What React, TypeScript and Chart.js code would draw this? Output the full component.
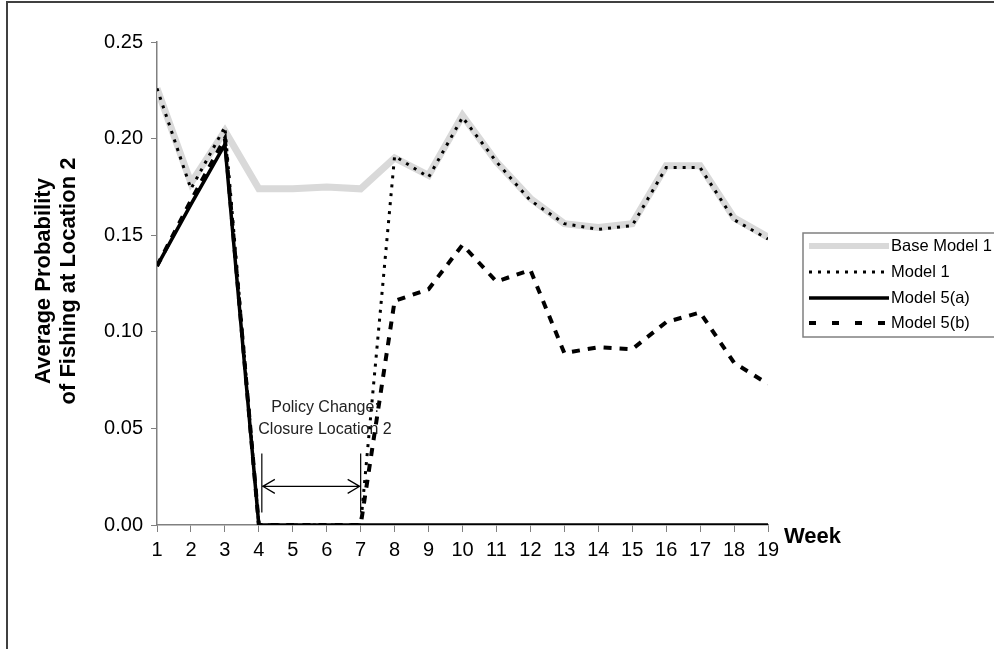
import React, { useEffect, useRef } from 'react';
import { Chart, registerables } from 'chart.js';

Chart.register(...registerables);

const weeks = [1, 2, 3, 4, 5, 6, 7, 8, 9, 10, 11, 12, 13, 14, 15, 16, 17, 18, 19];
const baseModel1 = [0.226, 0.177, 0.204, 0.174, 0.174, 0.175, 0.174, 0.190, 0.181, 0.212, 0.188, 0.169, 0.156, 0.154, 0.156, 0.186, 0.186, 0.159, 0.149];
const model1 = [0.226, 0.174, 0.206, 0, 0, 0, 0, 0.191, 0.180, 0.211, 0.188, 0.168, 0.156, 0.153, 0.155, 0.185, 0.185, 0.158, 0.148];
const model5a = [0.134, 0.166, 0.197, 0, 0, 0, 0, 0, 0, 0, 0, 0, 0, 0, 0, 0, 0, 0, 0];
const model5b = [0.134, 0.168, 0.2, 0, 0, 0, 0, 0.116, 0.122, 0.145, 0.126, 0.132, 0.089, 0.092, 0.091, 0.105, 0.11, 0.084, 0.073];
const yTicks = [0, 0.05, 0.1, 0.15, 0.2, 0.25];
const seriesNames = ['Base Model 1', 'Model 1', 'Model 5(a)', 'Model 5(b)'];

const toXY = (arr: number[]) => arr.map((v, i) => ({ x: weeks[i], y: v }));

const FONT = '"Liberation Sans", Arial, sans-serif';

const styles = [
  { color: '#d9d9d9', width: 7, dash: [] as number[] },
  { color: '#000000', width: 3, dash: [3, 6] },
  { color: '#000000', width: 3.5, dash: [] as number[] },
  { color: '#000000', width: 4, dash: [8, 8] },
];

const decorPlugin = {
  id: 'decor',
  afterDraw(chart: any) {
    const ctx = chart.ctx as CanvasRenderingContext2D;
    const xs = chart.scales.x;
    const ys = chart.scales.y;
    ctx.save();

    // outer frame
    ctx.strokeStyle = '#404040';
    ctx.lineWidth = 2;
    ctx.strokeRect(7, 2, 1000, 700);

    // y-axis title
    ctx.save();
    ctx.translate(56, 281);
    ctx.rotate(-Math.PI / 2);
    ctx.fillStyle = '#000';
    ctx.font = `bold 22px ${FONT}`;
    ctx.textAlign = 'center';
    ctx.textBaseline = 'middle';
    ctx.fillText('Average Probability', 0, -12.5);
    ctx.fillText('of Fishing at Location 2', 0, 12.5);
    ctx.restore();

    // x-axis title
    ctx.fillStyle = '#000';
    ctx.font = `bold 22px ${FONT}`;
    ctx.textAlign = 'left';
    ctx.textBaseline = 'middle';
    ctx.fillText('Week', 784, 537);

    // annotation
    const x4 = xs.getPixelForValue(4) + 3;
    const x7 = xs.getPixelForValue(7);
    const yTop = ys.getPixelForValue(0.037);
    const yBot = ys.getPixelForValue(0.0065);
    const yArr = ys.getPixelForValue(0.02);
    ctx.strokeStyle = '#000';
    ctx.lineWidth = 1.2;
    ctx.setLineDash([]);
    ctx.beginPath();
    ctx.moveTo(x4, yTop); ctx.lineTo(x4, yBot);
    ctx.moveTo(x7, yTop); ctx.lineTo(x7, yBot);
    ctx.moveTo(x4 + 1, yArr); ctx.lineTo(x7 - 1, yArr);
    ctx.moveTo(x4 + 13, yArr - 7); ctx.lineTo(x4 + 1, yArr); ctx.lineTo(x4 + 13, yArr + 7);
    ctx.moveTo(x7 - 13, yArr - 7); ctx.lineTo(x7 - 1, yArr); ctx.lineTo(x7 - 13, yArr + 7);
    ctx.stroke();

    ctx.fillStyle = '#222';
    ctx.font = `16px ${FONT}`;
    ctx.textAlign = 'center';
    ctx.textBaseline = 'middle';
    const tx = xs.getPixelForValue(5.95);
    ctx.fillText('Policy Change:', tx, ys.getPixelForValue(0.0608));
    ctx.fillText('Closure Location 2', tx, ys.getPixelForValue(0.0495));

    // legend
    const lx = 803;
    const ly = 233;
    ctx.fillStyle = '#fff';
    ctx.fillRect(lx, ly, 200, 104);
    ctx.strokeStyle = '#808080';
    ctx.lineWidth = 1.5;
    ctx.strokeRect(lx, ly, 200, 104);
    const rowY = [246, 272, 298, 323];
    seriesNames.forEach((name, i) => {
      const s = styles[i];
      ctx.strokeStyle = s.color;
      ctx.lineWidth = s.width === 7 ? 6 : s.width;
      ctx.setLineDash(i === 3 ? [7, 16] : s.dash);
      ctx.lineCap = 'butt';
      ctx.beginPath();
      ctx.moveTo(809, rowY[i]);
      ctx.lineTo(889, rowY[i]);
      ctx.stroke();
      ctx.setLineDash([]);
      ctx.fillStyle = '#000';
      ctx.font = `16.5px ${FONT}`;
      ctx.textAlign = 'left';
      ctx.textBaseline = 'middle';
      ctx.fillText(name, 891, rowY[i]);
    });
    ctx.restore();
  },
};

export default function App() {
  const ref = useRef<HTMLCanvasElement | null>(null);

  useEffect(() => {
    document.body.style.margin = '0';
    const canvas = ref.current!;
    const datasets = [baseModel1, model1, model5a, model5b].map((arr, i) => ({
      label: seriesNames[i],
      data: toXY(arr),
      borderColor: styles[i].color,
      borderWidth: styles[i].width,
      borderDash: styles[i].dash,
      pointRadius: 0,
      fill: false,
      tension: 0,
      borderJoinStyle: 'miter' as const,
      order: [4, 1, 2, 3][i],
    }));
    const chart = new Chart(canvas, {
      type: 'line',
      data: { datasets },
      options: {
        animation: false,
        responsive: false,
        maintainAspectRatio: false,
        layout: { padding: { top: 42, right: 226, left: 0, bottom: 0 } },
        plugins: { legend: { display: false }, tooltip: { enabled: false } },
        scales: {
          x: {
            type: 'linear',
            min: 1,
            max: 19,
            afterBuildTicks: (scale: any) => {
              scale.ticks = weeks.map((w) => ({ value: w }));
            },
            afterFit: (scale: any) => {
              scale.height = 124;
            },
            ticks: {
              color: '#000',
              font: { family: FONT, size: 20 },
              maxRotation: 0,
              autoSkip: false,
              padding: 6,
              callback: (v: any) => String(v),
            },
            grid: { drawOnChartArea: false, color: '#808080', tickLength: 7, lineWidth: 1 },
            border: { display: true, color: '#808080', width: 1.5 },
          },
          y: {
            type: 'linear',
            min: 0,
            max: 0.25,
            afterBuildTicks: (scale: any) => {
              scale.ticks = yTicks.map((v) => ({ value: v }));
            },
            afterFit: (scale: any) => {
              scale.width = 157;
            },
            ticks: {
              color: '#000',
              font: { family: FONT, size: 20 },
              padding: 8,
              callback: (v: any) => Number(v).toFixed(2),
            },
            grid: { drawOnChartArea: false, color: '#808080', tickLength: 6, lineWidth: 1 },
            border: { display: true, color: '#808080', width: 1.5 },
          },
        },
      },
      plugins: [decorPlugin],
    });
    return () => chart.destroy();
  }, []);

  return <canvas ref={ref} width={994} height={649} style={{ display: 'block' }} />;
}
